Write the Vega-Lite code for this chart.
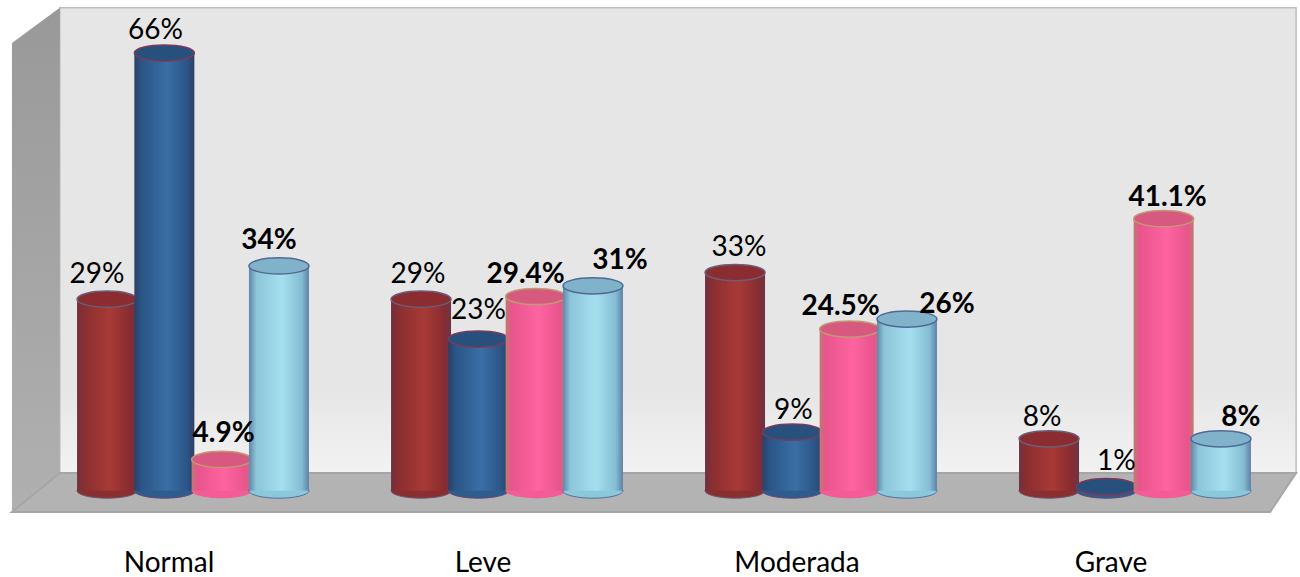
{"$schema":"https://vega.github.io/schema/vega-lite/v6.json","width":1300,"height":577,"autosize":{"type":"none"},"padding":0,"background":"#ffffff","config":{"view":{"stroke":null},"text":{"font":"Lato","fontSize":28,"color":"#000000"}},
"data":{"values":[
{"categoria":"Normal","serie":"S1","valor":29,"etiqueta":"29%"},{"categoria":"Normal","serie":"S2","valor":66,"etiqueta":"66%"},{"categoria":"Normal","serie":"S3","valor":4.9,"etiqueta":"4.9%"},{"categoria":"Normal","serie":"S4","valor":34,"etiqueta":"34%"},
{"categoria":"Leve","serie":"S1","valor":29,"etiqueta":"29%"},{"categoria":"Leve","serie":"S2","valor":23,"etiqueta":"23%"},{"categoria":"Leve","serie":"S3","valor":29.4,"etiqueta":"29.4%"},{"categoria":"Leve","serie":"S4","valor":31,"etiqueta":"31%"},
{"categoria":"Moderada","serie":"S1","valor":33,"etiqueta":"33%"},{"categoria":"Moderada","serie":"S2","valor":9,"etiqueta":"9%"},{"categoria":"Moderada","serie":"S3","valor":24.5,"etiqueta":"24.5%"},{"categoria":"Moderada","serie":"S4","valor":26,"etiqueta":"26%"},
{"categoria":"Grave","serie":"S1","valor":8,"etiqueta":"8%"},{"categoria":"Grave","serie":"S2","valor":0.8,"etiqueta":"1%"},{"categoria":"Grave","serie":"S3","valor":41.1,"etiqueta":"41.1%"},{"categoria":"Grave","serie":"S4","valor":8,"etiqueta":"8%"}]},
"resolve":{"scale":{"x":"independent"}},
"layer":[
{"encoding":{"x":{"field":"px","type":"quantitative","axis":null,"scale":{"domain":[0,100],"nice":false,"zero":false}},"y":{"field":"alto","type":"quantitative","axis":null,"scale":{"domain":[-12.78,73.98],"nice":false,"zero":false}},"y2":{"field":"bajo"}},
"layer":[
{"data":{"values":[{"px":4.6,"alto":72.8,"bajo":2.86},{"px":99.7,"alto":72.8,"bajo":2.86}]},"mark":{"type":"area","stroke":"#bdbdbd","strokeWidth":1.5,"fill":{"gradient":"linear","x1":0,"y1":0,"x2":0,"y2":1,"stops":[{"offset":0,"color":"#e6e6e6"},{"offset":0.82,"color":"#e6e6e6"},{"offset":1,"color":"#f2f2f2"}]}}},
{"data":{"values":[{"px":0.92,"alto":67.5,"bajo":-3.0},{"px":4.6,"alto":72.8,"bajo":2.86}]},"mark":{"type":"area","fill":{"gradient":"linear","x1":0,"y1":0,"x2":0,"y2":1,"stops":[{"offset":0,"color":"#999999"},{"offset":1,"color":"#b0b0b0"}]}}},
{"data":{"values":[{"px":0.92,"alto":-3.0,"bajo":-3.0},{"px":4.6,"alto":2.86,"bajo":-3.0},{"px":97.7,"alto":2.86,"bajo":-3.0},{"px":99.7,"alto":2.86,"bajo":2.86}]},"mark":{"type":"area","fill":"#b3b3b3","stroke":"#a6a6a6","strokeWidth":2}}
]},
{"encoding":{
"x":{"field":"categoria","type":"nominal","sort":["Normal","Leve","Moderada","Grave"],"scale":{"domain":["Normal","Leve","Moderada","Grave"],"range":[36,1292],"paddingInner":0,"paddingOuter":0},"axis":{"title":null,"orient":"bottom","offset":-28,"domain":false,"ticks":false,"labelAngle":0,"labelFont":"Lato","labelFontSize":28,"labelColor":"#000000","labelPadding":0,"labelBaseline":"top","labelOffset":-24}},
"xOffset":{"field":"serie","type":"nominal","scale":{"domain":["S1","S2","S3","S4"],"range":[42.4,271.6]}},
"y":{"field":"valor","type":"quantitative","axis":null,"scale":{"domain":[-12.78,73.98],"nice":false,"zero":false}}},
"layer":[
{"transform":[{"filter":"datum.serie=='S1'"}],"layer":[
{"mark":{"type":"point","filled":true,"opacity":1,"size":3600,"shape":"M-1,0A1,0.25 0 1,1 1,0A1,0.25 0 1,1 -1,0Z","fill":"#8a2f30","stroke":"#6a5a70","strokeWidth":1},"encoding":{"y":{"datum":0.2}}},
{"mark":{"type":"bar","width":60,"fill":{"gradient":"linear","x1":0,"y1":0,"x2":1,"y2":0,"stops":[{"offset":0,"color":"#6e3040"},{"offset":0.12,"color":"#8a2e30"},{"offset":0.55,"color":"#a83a36"},{"offset":0.88,"color":"#882c30"},{"offset":1,"color":"#6a3548"}]}},"encoding":{"y2":{"datum":0.2}}},
{"mark":{"type":"point","filled":true,"opacity":1,"size":3600,"shape":"M-1,0A1,0.27 0 1,1 1,0A1,0.27 0 1,1 -1,0Z","fill":"#8a2c30","stroke":"#6a5f7a","strokeWidth":1.5}}
]},
{"transform":[{"filter":"datum.serie=='S2'"}],"layer":[
{"mark":{"type":"point","filled":true,"opacity":1,"size":3600,"shape":"M-1,0A1,0.25 0 1,1 1,0A1,0.25 0 1,1 -1,0Z","fill":"#2f5c8f","stroke":"#6a4a70","strokeWidth":1},"encoding":{"y":{"datum":0.2}}},
{"mark":{"type":"bar","width":60,"fill":{"gradient":"linear","x1":0,"y1":0,"x2":1,"y2":0,"stops":[{"offset":0,"color":"#2c3f66"},{"offset":0.12,"color":"#2a5587"},{"offset":0.55,"color":"#3a6fa5"},{"offset":0.88,"color":"#2a5587"},{"offset":1,"color":"#2e3f66"}]}},"encoding":{"y2":{"datum":0.2}}},
{"mark":{"type":"point","filled":true,"opacity":1,"size":3600,"shape":"M-1,0A1,0.27 0 1,1 1,0A1,0.27 0 1,1 -1,0Z","fill":"#28507c","stroke":"#7a3a5a","strokeWidth":1.5}}
]},
{"transform":[{"filter":"datum.serie=='S3'"}],"layer":[
{"mark":{"type":"point","filled":true,"opacity":1,"size":3600,"shape":"M-1,0A1,0.25 0 1,1 1,0A1,0.25 0 1,1 -1,0Z","fill":"#f45c98"},"encoding":{"y":{"datum":0.2}}},
{"mark":{"type":"bar","width":60,"fill":{"gradient":"linear","x1":0,"y1":0,"x2":1,"y2":0,"stops":[{"offset":0,"color":"#c07a70"},{"offset":0.1,"color":"#e8548c"},{"offset":0.55,"color":"#ff64a0"},{"offset":0.9,"color":"#e8548c"},{"offset":1,"color":"#c07a70"}]}},"encoding":{"y2":{"datum":0.2}}},
{"mark":{"type":"point","filled":true,"opacity":1,"size":3600,"shape":"M-1,0A1,0.27 0 1,1 1,0A1,0.27 0 1,1 -1,0Z","fill":"#d8597f","stroke":"#c09a70","strokeWidth":1.5}}
]},
{"transform":[{"filter":"datum.serie=='S4'"}],"layer":[
{"mark":{"type":"point","filled":true,"opacity":1,"size":3600,"shape":"M-1,0A1,0.25 0 1,1 1,0A1,0.25 0 1,1 -1,0Z","fill":"#8cc8dc","stroke":"#50709a","strokeWidth":1},"encoding":{"y":{"datum":0.2}}},
{"mark":{"type":"bar","width":60,"fill":{"gradient":"linear","x1":0,"y1":0,"x2":1,"y2":0,"stops":[{"offset":0,"color":"#5f86a8"},{"offset":0.12,"color":"#8cc4d8"},{"offset":0.55,"color":"#a5e0f0"},{"offset":0.88,"color":"#84bcd2"},{"offset":1,"color":"#5f80a8"}]}},"encoding":{"y2":{"datum":0.2}}},
{"mark":{"type":"point","filled":true,"opacity":1,"size":3600,"shape":"M-1,0A1,0.27 0 1,1 1,0A1,0.27 0 1,1 -1,0Z","fill":"#80b2c9","stroke":"#4f6a95","strokeWidth":1.5}}
]},
{"encoding":{"text":{"field":"etiqueta"}},"layer":[
{"transform":[{"filter":"datum.categoria=='Normal'&&datum.serie=='S1'"}],"mark":{"type":"text","dx":-10,"dy":-24}},
{"transform":[{"filter":"datum.categoria=='Normal'&&datum.serie=='S2'"}],"mark":{"type":"text","dx":-9,"dy":-22}},
{"transform":[{"filter":"datum.categoria=='Normal'&&datum.serie=='S3'"}],"mark":{"type":"text","fontWeight":"bold","dx":2,"dy":-25}},
{"transform":[{"filter":"datum.categoria=='Normal'&&datum.serie=='S4'"}],"mark":{"type":"text","fontWeight":"bold","dx":-10,"dy":-25}},
{"transform":[{"filter":"datum.categoria=='Leve'&&datum.serie=='S1'"}],"mark":{"type":"text","dx":-3,"dy":-24}},
{"transform":[{"filter":"datum.categoria=='Leve'&&datum.serie=='S2'"}],"mark":{"type":"text","dx":0,"dy":-28}},
{"transform":[{"filter":"datum.categoria=='Leve'&&datum.serie=='S3'"}],"mark":{"type":"text","fontWeight":"bold","dx":-10,"dy":-21}},
{"transform":[{"filter":"datum.categoria=='Leve'&&datum.serie=='S4'"}],"mark":{"type":"text","fontWeight":"bold","dx":27,"dy":-25}},
{"transform":[{"filter":"datum.categoria=='Moderada'&&datum.serie=='S1'"}],"mark":{"type":"text","dx":4,"dy":-25}},
{"transform":[{"filter":"datum.categoria=='Moderada'&&datum.serie=='S2'"}],"mark":{"type":"text","dx":1,"dy":-21}},
{"transform":[{"filter":"datum.categoria=='Moderada'&&datum.serie=='S3'"}],"mark":{"type":"text","fontWeight":"bold","dx":-9,"dy":-22}},
{"transform":[{"filter":"datum.categoria=='Moderada'&&datum.serie=='S4'"}],"mark":{"type":"text","fontWeight":"bold","dx":40,"dy":-14}},
{"transform":[{"filter":"datum.categoria=='Grave'&&datum.serie=='S1'"}],"mark":{"type":"text","dx":-7,"dy":-21}},
{"transform":[{"filter":"datum.categoria=='Grave'&&datum.serie=='S2'"}],"mark":{"type":"text","dx":10,"dy":-25}},
{"transform":[{"filter":"datum.categoria=='Grave'&&datum.serie=='S3'"}],"mark":{"type":"text","fontWeight":"bold","dx":4,"dy":-21}},
{"transform":[{"filter":"datum.categoria=='Grave'&&datum.serie=='S4'"}],"mark":{"type":"text","fontWeight":"bold","dx":20,"dy":-21}}
]}
]}
]}
